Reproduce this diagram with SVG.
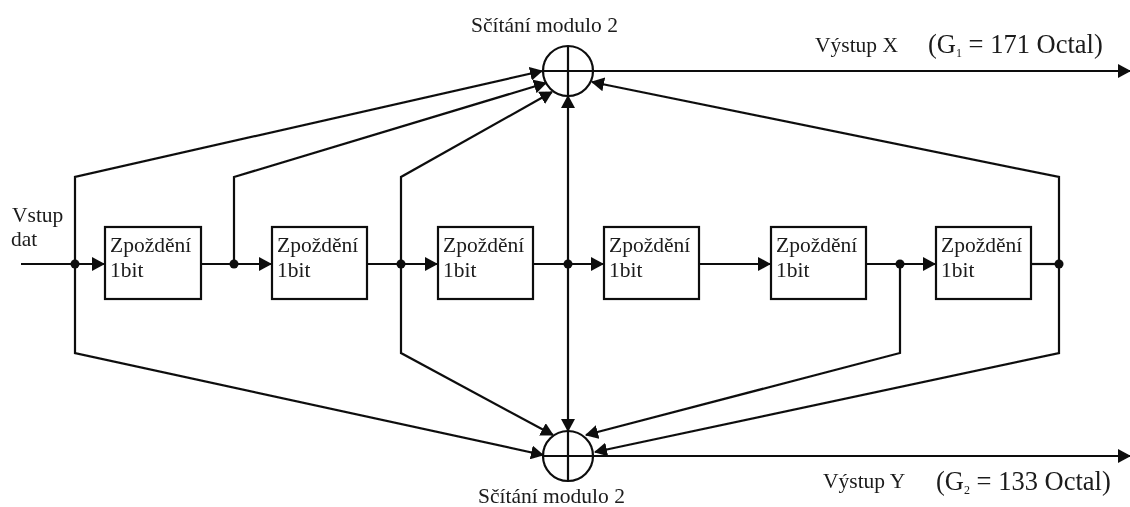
<svg xmlns="http://www.w3.org/2000/svg" width="1130" height="507" viewBox="0 0 1130 507">
<style>
text{font-family:"Liberation Serif","Times New Roman",serif;fill:#1a1a1a;font-size:21.5px}
.g{font-size:26.5px}
.sub{font-size:12px}
.n{fill:none;stroke:#111;stroke-width:2.2}
.w{fill:#fff;stroke:#111;stroke-width:2.2}
.c{fill:none;stroke:#111;stroke-width:2.2}
.a{fill:none;stroke:#111;stroke-width:2.2;marker-end:url(#arrow)}
.d{fill:#111}
</style>
<defs>
<marker id="arrow" markerUnits="userSpaceOnUse" markerWidth="13" markerHeight="14" refX="12" refY="7" orient="auto" viewBox="0 0 13 14"><path d="M0,0L13,7L0,14Z" fill="#111"/></marker>
<filter id="soft" x="0" y="0" width="100%" height="100%"><feGaussianBlur stdDeviation="0.45"/></filter>
</defs>
<g filter="url(#soft)">
<g id="connectors">
<path class="a" d="M21,264H104"/>
<path class="a" d="M201,264H271"/>
<path class="a" d="M367,264H437"/>
<path class="a" d="M533,264H603"/>
<path class="a" d="M699,264H770"/>
<path class="a" d="M866,264H935"/>
<path class="c" d="M1031,264H1059"/>
<path class="a" d="M75,264V177L542,71"/>
<path class="a" d="M234,264V177L546,83"/>
<path class="a" d="M401,264V177L552,92"/>
<path class="a" d="M568,264V96"/>
<path class="a" d="M1059,264V177L592,82"/>
<path class="a" d="M75,264V353L543,455"/>
<path class="a" d="M401,264V353L553,435"/>
<path class="a" d="M568,264V431"/>
<path class="a" d="M900,264V353L586,435"/>
<path class="a" d="M1059,264V353L595,452"/>
<path class="a" d="M593,71H1130"/>
<path class="a" d="M593,456H1130"/>
<circle class="d" cx="75" cy="264" r="4.5"/>
<circle class="d" cx="234" cy="264" r="4.5"/>
<circle class="d" cx="401" cy="264" r="4.5"/>
<circle class="d" cx="568" cy="264" r="4.5"/>
<circle class="d" cx="900" cy="264" r="4.5"/>
<circle class="d" cx="1059" cy="264" r="4.5"/>
</g>
<g id="adder-top"><circle class="n" cx="568" cy="71" r="25"/><path class="n" d="M543,71H593M568,46V96"/></g>
<g id="adder-bottom"><circle class="n" cx="568" cy="456" r="25"/><path class="n" d="M543,456H593M568,431V481"/></g>
<g id="delay-1"><rect class="w" x="105" y="227" width="96" height="72"/><text x="110" y="252">Zpoždění</text><text x="110" y="277">1bit</text></g>
<g id="delay-2"><rect class="w" x="272" y="227" width="95" height="72"/><text x="277" y="252">Zpoždění</text><text x="277" y="277">1bit</text></g>
<g id="delay-3"><rect class="w" x="438" y="227" width="95" height="72"/><text x="443" y="252">Zpoždění</text><text x="443" y="277">1bit</text></g>
<g id="delay-4"><rect class="w" x="604" y="227" width="95" height="72"/><text x="609" y="252">Zpoždění</text><text x="609" y="277">1bit</text></g>
<g id="delay-5"><rect class="w" x="771" y="227" width="95" height="72"/><text x="776" y="252">Zpoždění</text><text x="776" y="277">1bit</text></g>
<g id="delay-6"><rect class="w" x="936" y="227" width="95" height="72"/><text x="941" y="252">Zpoždění</text><text x="941" y="277">1bit</text></g>
<g id="labels">
<text x="471" y="32">Sčítání modulo 2</text>
<text x="478" y="503">Sčítání modulo 2</text>
<text x="12" y="222">Vstup</text>
<text x="11" y="246">dat</text>
<text x="815" y="52">Výstup X</text>
<text x="823" y="488">Výstup Y</text>
<text class="g" x="928" y="53">(G<tspan class="sub" dy="4">1</tspan><tspan dy="-4"> = 171 Octal)</tspan></text>
<text class="g" x="936" y="490">(G<tspan class="sub" dy="4">2</tspan><tspan dy="-4"> = 133 Octal)</tspan></text>
</g>
</g>
</svg>
